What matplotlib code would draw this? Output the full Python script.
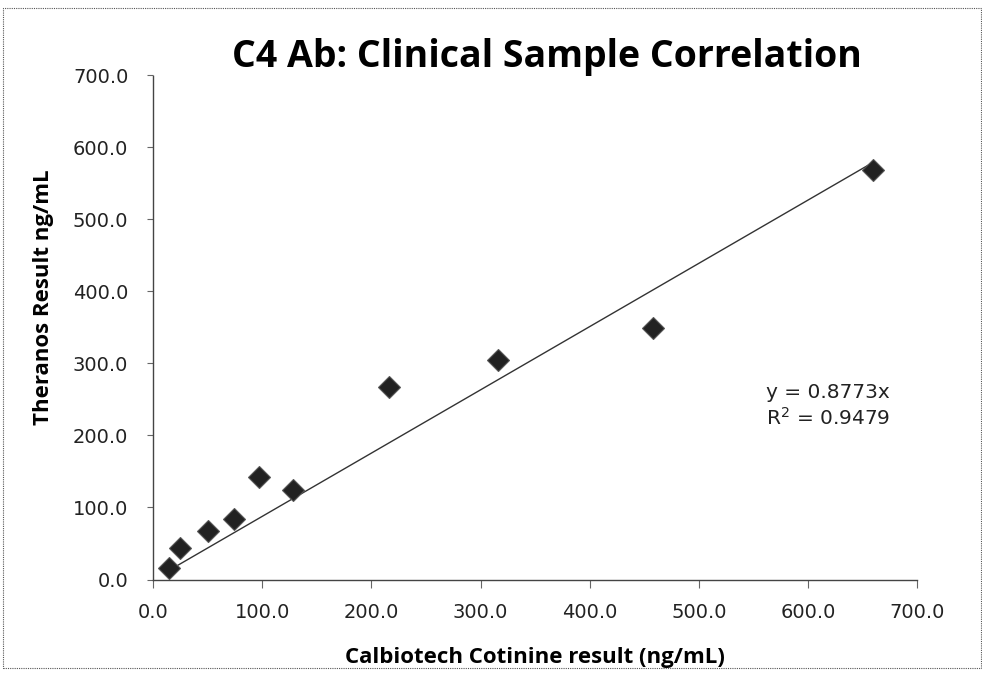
import matplotlib as mpl
mpl.use("Agg")
import matplotlib.pyplot as plt
from matplotlib.patches import Rectangle
import numpy as np

# Data
calbiotech = [14.4, 24.5, 49.8, 74.0, 96.9, 127.8, 216.0, 316.4, 458.0, 660.0]
theranos = [16.4, 43.3, 67.4, 84.5, 142.8, 124.3, 267.8, 304.9, 349.0, 568.0]
slope = 0.8773
r_squared = 0.9479
ticks = [0, 100, 200, 300, 400, 500, 600, 700]

fig = plt.figure(figsize=(9.82, 6.74), dpi=100)
ax = fig.add_axes([0.1561, 0.1402, 0.9338 - 0.1561, 0.8887 - 0.1402])

# outer dotted frame
fig.patches.append(Rectangle((0.003, 0.009), 0.996, 0.979, transform=fig.transFigure,
                             fill=False, ls=(0, (1, 1)), lw=0.8, ec="#555555"))

# trendline (Excel style, spans the data range)
x_line = np.array([min(calbiotech), max(calbiotech)])
ax.plot(x_line, slope * x_line, color="#333333", lw=1.0, zorder=2)

ax.plot(calbiotech, theranos, ls="none", marker="D", ms=11, color="#222222",
        mec="#555555", mew=0.8, zorder=3)

ax.set_xlim(0, 700)
ax.set_ylim(0, 700)
ax.set_xticks(ticks)
ax.set_yticks(ticks)
ax.set_xticklabels([f"{t:.1f}" for t in ticks])
ax.set_yticklabels([f"{t:.1f}" for t in ticks])

for s in ["top", "right"]:
    ax.spines[s].set_visible(False)
for s in ["left", "bottom"]:
    ax.spines[s].set_linestyle((0, (1, 1)))
    ax.spines[s].set_linewidth(1.0)
    ax.spines[s].set_color("#444444")

ax.tick_params(axis="x", direction="out", length=6, width=0.8, color="#666666",
               labelsize=14, pad=11, labelcolor="#222222")
ax.tick_params(axis="y", direction="out", length=4, width=0.8, color="#666666",
               labelsize=14, pad=14, labelcolor="#222222")

ax.set_xlabel("Calbiotech Cotinine result (ng/mL)", fontsize=16, fontweight="bold",
              family="Open Sans", labelpad=18)
ax.set_ylabel("Theranos Result ng/mL", fontsize=16, fontweight="bold",
              family="Open Sans")
ax.yaxis.set_label_coords(-0.13, 0.56)

fig.text(0.557, 0.915, "C4 Ab: Clinical Sample Correlation", ha="center", va="center",
         fontsize=27, fontweight="bold", family="Open Sans")

ax.text(0.7805, 0.398, f"y = {slope}x\nR$^2$ = {r_squared}", transform=fig.transFigure,
        ha="left", va="center", fontsize=14.5, linespacing=1.3, color="#222222")

fig.savefig("out.png", dpi=100)
